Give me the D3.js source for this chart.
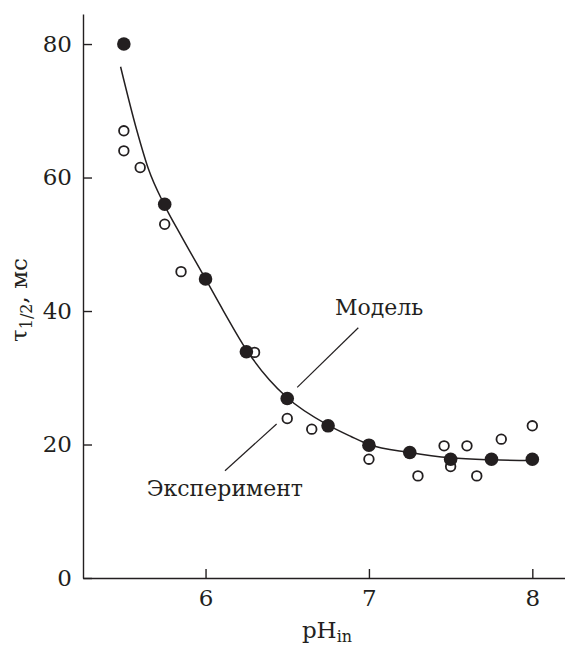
<!DOCTYPE html>
<html>
<head>
<meta charset="utf-8">
<script src="https://cdn.jsdelivr.net/npm/d3@7"></script>
<style>
  html, body { margin: 0; padding: 0; background: #fff; }
</style>
</head>
<body>
<div id="chart"></div>
<script>
// experiment (filled circles)
const expPh  = [5.5, 5.75, 6.0, 6.25, 6.5, 6.75, 7.0, 7.25, 7.5, 7.75, 8.0];
const expTau = [80, 56, 44.8, 33.9, 26.9, 22.8, 19.9, 18.8, 17.8, 17.8, 17.8];

// open circles
const openPh  = [5.5, 5.5, 5.6, 5.75, 5.85, 6.3, 6.5, 6.65, 7.0, 7.3, 7.46, 7.5, 7.6, 7.66, 7.81, 8.0];
const openTau = [67, 64, 61.5, 53, 45.9, 33.8, 23.9, 22.3, 17.8, 15.3, 19.8, 16.7, 19.8, 15.3, 20.8, 22.8];

// model curve
const modelPh  = [5.48, 5.58, 5.65, 5.75, 5.85, 6.0, 6.11, 6.25, 6.39, 6.5, 6.75, 6.89, 7.0, 7.25, 7.5, 7.75, 8.0];
const modelTau = [76.6, 67.0, 61.3, 55.8, 51.3, 44.8, 40.0, 34.2, 29.7, 27.0, 22.9, 21.2, 20.0, 18.8, 18.0, 17.7, 17.6];

const xTicks = [6, 7, 8];
const yTicks = [0, 20, 40, 60, 80];

// annotations: label, text anchor point, leader line [x1, y1, x2, y2] in data units
const labels = [
    { text: "Модель", x: 6.792, y: 39.4, line: [6.561, 28.57, 6.935, 37.5] },
    { text: "Эксперимент", x: 5.64, y: 12.28, line: [6.435, 23.07, 6.119, 16.07] }
];

const width = 565;
const height = 646;
const margin = { top: 14, right: 0, bottom: 68, left: 83 };
const ink = "#231f20";
const serif = "DejaVu Serif, Liberation Serif, serif";

const svg = d3.select("#chart")
    .append("svg")
    .attr("width", width)
    .attr("height", height)
    .style("display", "block");

const x = d3.scaleLinear()
    .domain([5.25, 8.2])
    .range([margin.left, width - margin.right]);

const y = d3.scaleLinear()
    .domain([0, 84.5])
    .range([height - margin.bottom, margin.top]);

// axes, ticks pointing inward
const xAxis = svg.append("g")
    .attr("transform", `translate(0,${height - margin.bottom})`)
    .call(d3.axisBottom(x).tickValues(xTicks).tickFormat(d3.format("d"))
        .tickSizeInner(-9).tickSizeOuter(0).tickPadding(12));

const yAxis = svg.append("g")
    .attr("transform", `translate(${margin.left},0)`)
    .call(d3.axisLeft(y).tickValues(yTicks).tickFormat(d3.format("d"))
        .tickSizeInner(-9).tickSizeOuter(0).tickPadding(11));

[xAxis, yAxis].forEach(g => {
    g.attr("font-family", serif).attr("font-size", 23);
    g.selectAll("path, line").attr("stroke", ink).attr("stroke-width", 1.4);
    g.selectAll("text").attr("fill", ink);
});

// model curve
const line = d3.line()
    .x(d => x(d[0]))
    .y(d => y(d[1]))
    .curve(d3.curveMonotoneX);

svg.append("path")
    .datum(d3.zip(modelPh, modelTau))
    .attr("d", line)
    .attr("fill", "none")
    .attr("stroke", ink)
    .attr("stroke-width", 1.5);

// open circles
svg.selectAll(".open")
    .data(d3.zip(openPh, openTau))
    .join("circle")
    .attr("class", "open")
    .attr("cx", d => x(d[0]))
    .attr("cy", d => y(d[1]))
    .attr("r", 4.8)
    .attr("fill", "#fff")
    .attr("stroke", ink)
    .attr("stroke-width", 1.8);

// filled circles
svg.selectAll(".filled")
    .data(d3.zip(expPh, expTau))
    .join("circle")
    .attr("class", "filled")
    .attr("cx", d => x(d[0]))
    .attr("cy", d => y(d[1]))
    .attr("r", 6.8)
    .attr("fill", ink);

// annotations
svg.selectAll(".leader")
    .data(labels)
    .join("line")
    .attr("x1", d => x(d.line[0]))
    .attr("y1", d => y(d.line[1]))
    .attr("x2", d => x(d.line[2]))
    .attr("y2", d => y(d.line[3]))
    .attr("stroke", ink)
    .attr("stroke-width", 1.2);

svg.selectAll(".note")
    .data(labels)
    .join("text")
    .attr("x", d => x(d.x))
    .attr("y", d => y(d.y))
    .attr("fill", ink)
    .attr("font-family", serif)
    .attr("font-size", 22)
    .text(d => d.text);

// axis titles
const xTitle = svg.append("text")
    .attr("x", 327)
    .attr("y", 638)
    .attr("text-anchor", "middle")
    .attr("fill", ink)
    .attr("font-family", serif)
    .attr("font-size", 23);
xTitle.append("tspan").text("pH");
xTitle.append("tspan").attr("dy", 4).attr("font-size", 16).text("in");

const yTitle = svg.append("text")
    .attr("transform", "translate(27,300) rotate(-90)")
    .attr("text-anchor", "middle")
    .attr("fill", ink)
    .attr("font-family", serif)
    .attr("font-size", 23);
yTitle.append("tspan").text("τ");
yTitle.append("tspan").attr("dy", 5).attr("font-size", 16).text("1/2");
yTitle.append("tspan").attr("dy", -5).text(", мс");
</script>
</body>
</html>
